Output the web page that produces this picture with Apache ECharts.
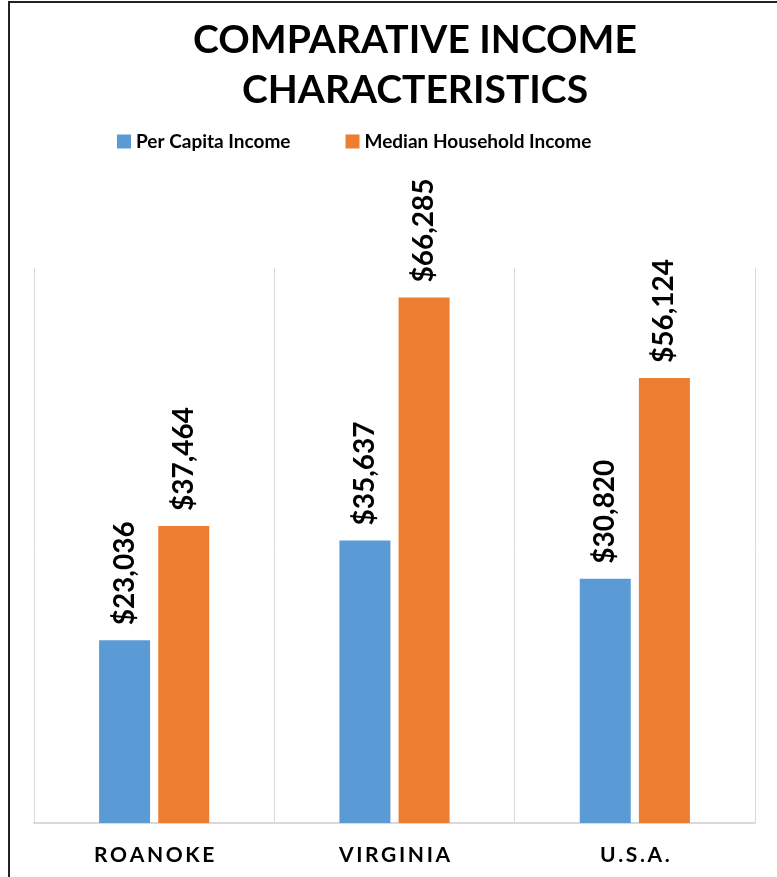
<!DOCTYPE html>
<html>
<head>
<meta charset="utf-8">
<script src="https://cdn.jsdelivr.net/npm/echarts@6/dist/echarts.min.js"></script>
<style>
  html, body { margin: 0; padding: 0; background: #fff; }
  #frame { position: absolute; left: 0; top: 0; width: 777px; height: 877px; }
  #chart { width: 777px; height: 877px; }
  #border { position: absolute; left: 8px; top: 1px; width: 777px; height: 900px;
            border-left: 2px solid #222; border-top: 2px solid #222; pointer-events: none; }
</style>
</head>
<body>
<div id="frame">
  <div id="chart"></div>
  <div id="border"></div>
</div>
<script>
// chart data
const places = ["ROANOKE", "VIRGINIA", "U.S.A."];
const perCapita = [23036, 35637, 30820];
const medianHousehold = [37464, 66285, 56124];

const FONT = "Lato, 'Open Sans', sans-serif";
const spaced = (s) => s.split("").join("\u2009");
const money = (v) => "$" + v.toLocaleString("en-US");

const chart = echarts.init(document.getElementById("chart"));

const labelStyle = {
  show: true,
  position: "top",
  rotate: 90,
  align: "left",
  verticalAlign: "middle",
  distance: 15,
  fontFamily: FONT,
  fontWeight: "bold",
  fontSize: 28,
  color: "#000",
  formatter: (p) => money(p.value),
};

chart.setOption({
  animation: false,
  title: {
    text: "COMPARATIVE INCOME\nCHARACTERISTICS",
    left: 410,
    textAlign: "center",
    top: 10,
    textStyle: {
      fontFamily: FONT,
      fontWeight: "bold",
      fontSize: 39,
      lineHeight: 50,
      color: "#000",
    },
  },
  legend: {
    top: 127,
    left: 112,
    icon: "rect",
    itemWidth: 14,
    itemHeight: 14,
    itemGap: 55,
    textStyle: { fontFamily: FONT, fontWeight: "bold", fontSize: 19, color: "#000" },
    data: ["Per Capita Income", "Median Household Income"],
  },
  grid: { left: 34, right: 22, top: 268, bottom: 54 },
  xAxis: {
    type: "category",
    data: places,
    axisLine: { lineStyle: { color: "#d9d9d9", width: 2 } },
    axisTick: { show: false },
    splitLine: { show: true, lineStyle: { color: "#d9d9d9", width: 1 } },
    axisLabel: {
      margin: 22,
      fontFamily: FONT,
      fontWeight: "bold",
      fontSize: 21,
      color: "#000",
      formatter: (v) => spaced(v),
    },
  },
  yAxis: {
    type: "value",
    min: 0,
    max: 70000,
    show: false,
    splitLine: { show: false },
  },
  series: [
    {
      name: "Per Capita Income",
      type: "bar",
      data: perCapita,
      barWidth: 51,
      barGap: "16%",
      itemStyle: { color: "#5B9BD5" },
      label: labelStyle,
    },
    {
      name: "Median Household Income",
      type: "bar",
      data: medianHousehold,
      barWidth: 51,
      barGap: "16%",
      itemStyle: { color: "#ED7D31" },
      label: labelStyle,
    },
  ],
});
</script>
</body>
</html>
